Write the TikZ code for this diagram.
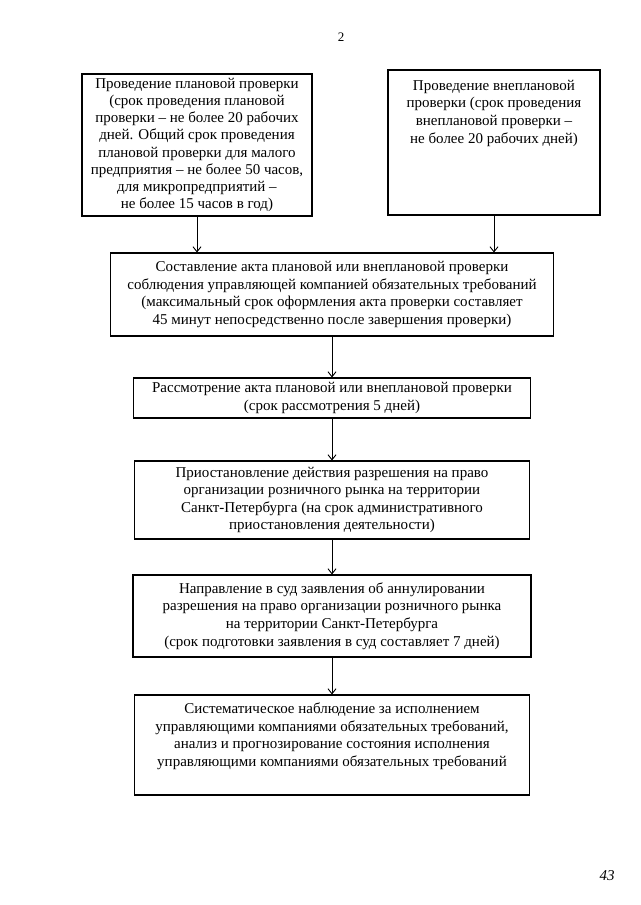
\documentclass[tikz,border=0pt]{standalone}
\usepackage{fontspec}
\setmainfont{Liberation Serif}
\usetikzlibrary{arrows.meta}

\begin{document}
\begin{tikzpicture}[x=1pt,y=-1pt,
    box/.style={draw, line width=1.1pt, align=center, inner sep=4pt,
      font=\fontsize{15}{17.6}\selectfont},
    arr/.style={line width=0.9pt, -{Straight Barb[length=5pt,width=8pt]}}]
  \useasboundingbox (0,0) rectangle (640,905);

  \node (pagenum) at (341,37) {\fontsize{13}{15}\selectfont 2};

  % two kinds of inspection
  \node[box, minimum width=230pt, minimum height=142pt,
    font=\fontsize{15}{17.1}\selectfont] (plan) at (197,145)
    {Проведение плановой проверки\\
     (срок проведения плановой\\
     проверки – не более 20 рабочих\\
     дней. Общий срок проведения\\
     плановой проверки для малого\\
     предприятия – не более 50 часов,\\
     для микропредприятий –\\
     не более 15 часов в год)};
  \node[box, inner sep=0pt] (vneplan) at (494,142.5)
    {\parbox[c][145pt][t]{212pt}{\centering\vspace{10pt}
     Проведение внеплановой\\
     проверки (срок проведения\\
     внеплановой проверки –\\
     не более 20 рабочих дней)}};

  % main column
  \node[box, minimum width=443pt, minimum height=83pt] (akt) at (332,294.5)
    {Составление акта плановой или внеплановой проверки\\
     соблюдения управляющей компанией обязательных требований\\
     (максимальный срок оформления акта проверки составляет\\
     45 минут непосредственно после завершения проверки)};
  \node[box, minimum width=397pt, minimum height=40pt] (rassm) at (332,398)
    {Рассмотрение акта плановой или внеплановой проверки\\
     (срок рассмотрения 5 дней)};
  \node[box, minimum width=395pt, minimum height=78pt] (priost) at (332,500)
    {Приостановление действия разрешения на право\\
     организации розничного рынка на территории\\
     Санкт-Петербурга (на срок административного\\
     приостановления деятельности)};
  \node[box, minimum width=398pt, minimum height=82pt] (sud) at (332,616)
    {Направление в суд заявления об аннулировании\\
     разрешения на право организации розничного рынка\\
     на территории Санкт-Петербурга\\
     (срок подготовки заявления в суд составляет 7 дней)};
  \node[box, inner sep=0pt] (nabl) at (332,745)
    {\parbox[c][100pt][t]{395pt}{\centering\vspace{8pt}
     Систематическое наблюдение за исполнением\\
     управляющими компаниями обязательных требований,\\
     анализ и прогнозирование состояния исполнения\\
     управляющими компаниями обязательных требований}};

  \draw[arr] (plan.south) -- (plan.south |- akt.north);
  \draw[arr] (vneplan.south) -- (vneplan.south |- akt.north);
  \draw[arr] (akt.south) -- (rassm.north);
  \draw[arr] (rassm.south) -- (priost.north);
  \draw[arr] (priost.south) -- (sud.north);
  \draw[arr] (sud.south) -- (nabl.north);

  \node (sheet) at (607,876) {\fontsize{15}{17}\selectfont\itshape 43};
\end{tikzpicture}
\end{document}
